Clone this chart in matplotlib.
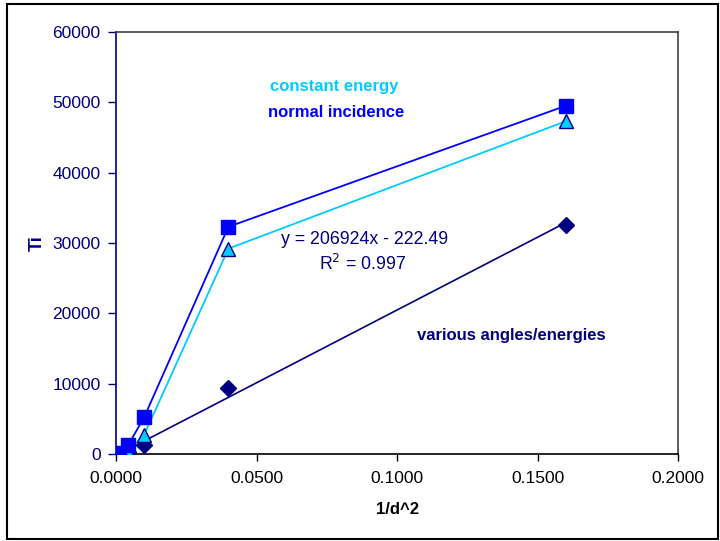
import numpy as np
import matplotlib
matplotlib.use('Agg')
import matplotlib.pyplot as plt
from matplotlib.patches import Rectangle

# 1/d^2 values and Ti counts
x_normal = [0.0004, 0.0011, 0.0044, 0.01, 0.04, 0.16]
y_normal = [50, 200, 1300, 5200, 32300, 49500]

x_const = [0.0004, 0.0025, 0.0044, 0.01, 0.04, 0.16]
y_const = [20, 150, 350, 2700, 29200, 47300]

x_various = [0.0025, 0.0044, 0.01, 0.04, 0.16]
y_various = [100, 300, 1300, 9400, 32600]

# linear trendline shown on the chart
trend_slope = 206924
trend_icept = -222.49
trend_r2 = 0.997

x_ticks = [0.0, 0.05, 0.1, 0.15, 0.2]
y_ticks = [0, 10000, 20000, 30000, 40000, 50000, 60000]

navy = '#000080'
blue = '#0000FF'
cyan = '#00CCFF'

plt.rcParams['font.family'] = ['Liberation Sans', 'DejaVu Sans']

fig = plt.figure(figsize=(7.2, 5.41), dpi=100)
fig.patches.append(Rectangle((7 / 720, 2 / 541), 711 / 720, 535 / 541,
                             transform=fig.transFigure, fill=False,
                             edgecolor='black', linewidth=1.5))
ax = fig.add_axes([0.1611, 0.1608, 0.7806, 0.7801])

# trendline for the various angles/energies points
xt = np.array([min(x_various), max(x_various)])
ax.plot(xt, trend_slope * xt + trend_icept, color=navy, lw=1.2, zorder=2)

ax.plot(x_various, y_various, linestyle='none', marker='D', markersize=8,
        color=navy, zorder=3)
ax.plot(x_const, y_const, color=cyan, lw=1.3, marker='^', markersize=10,
        markerfacecolor=cyan, markeredgecolor=navy, markeredgewidth=1.0, zorder=4)
ax.plot(x_normal, y_normal, color=blue, lw=1.3, marker='s', markersize=9.5,
        markerfacecolor=blue, markeredgecolor=blue, zorder=5)

ax.set_xlim(0, 0.2)
ax.set_ylim(0, 60000)
ax.set_xticks(x_ticks)
ax.set_xticklabels(['%.4f' % v for v in x_ticks])
ax.set_yticks(y_ticks)
ax.set_yticklabels([str(v) for v in y_ticks])

ax.tick_params(axis='y', colors=navy, labelsize=12.5, direction='out', length=6,
               width=1, pad=5)
ax.tick_params(axis='x', colors='black', labelsize=12.5, direction='out', length=5,
               width=1, pad=7)
ax.spines['left'].set_color(navy)
ax.spines['bottom'].set_color('black')
ax.spines['top'].set_color('#404040')
ax.spines['right'].set_color('#404040')
for s in ax.spines.values():
    s.set_linewidth(1.2)

ax.set_xlabel('1/d^2', fontsize=12, fontweight='bold', labelpad=12)
ax.set_ylabel('Ti', fontsize=13, fontweight='bold', color=navy)
ax.yaxis.set_label_coords(-0.1246, 0.5)

ax.text(0.0776, 52200, 'constant energy', color=cyan, fontsize=12,
        fontweight='bold', ha='center', va='center')
ax.text(0.0783, 48500, 'normal incidence', color=blue, fontsize=12,
        fontweight='bold', ha='center', va='center')
ax.text(0.0883, 30450, 'y = 206924x - 222.49', color=navy, fontsize=12.8,
        ha='center', va='center')
ax.text(0.0879, 27000, r'R$^2$ = %.3f' % trend_r2, color=navy, fontsize=12.8,
        ha='center', va='center')
ax.text(0.1406, 16800, 'various angles/energies', color=navy, fontsize=12,
        fontweight='bold', ha='center', va='center')

fig.savefig('out.png', dpi=100)
